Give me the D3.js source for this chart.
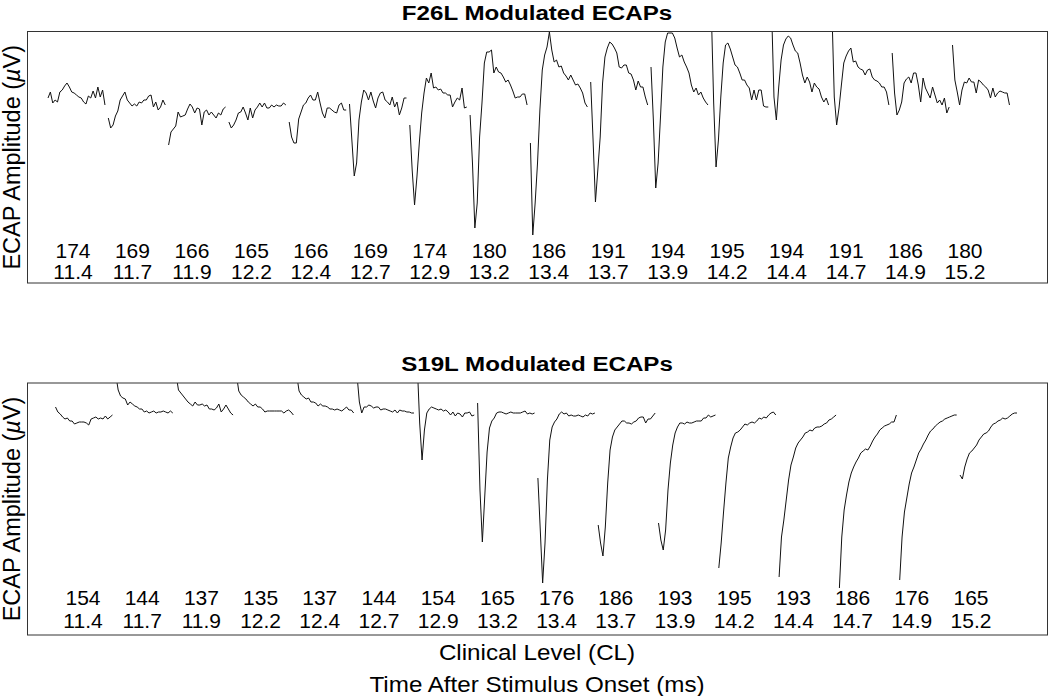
<!DOCTYPE html>
<html>
<head>
<meta charset="utf-8">
<title>Modulated ECAPs</title>
<script src="https://d3js.org/d3.v7.min.js"></script>
<style>
  body { margin: 0; background: #fff; }
  svg { display: block; font-family: "Liberation Sans", Arial, sans-serif; }
  .box { fill: none; stroke: #333; stroke-width: 1; }
  .trace { fill: none; stroke: #111; stroke-width: 1; }
  .lbl { font-size: 21px; fill: #000; text-anchor: middle; }
  .title { font-size: 21px; font-weight: bold; text-anchor: middle; }
  .axlbl { font-size: 22px; text-anchor: middle; }
</style>
</head>
<body>
<svg id="chart" width="1050" height="696"></svg>
<script>
// clinical levels under each trace, one row per subject
const clF26L = [174, 169, 166, 165, 166, 169, 174, 180, 186, 191, 194, 195, 194, 191, 186, 180];
const clS19L = [154, 144, 137, 135, 137, 144, 154, 165, 176, 186, 193, 195, 193, 186, 176, 165];
// time after stimulus onset (ms), same for both
const onsetMs = ["11.4", "11.7", "11.9", "12.2", "12.4", "12.7", "12.9", "13.2", "13.4", "13.7", "13.9", "14.2", "14.4", "14.7", "14.9", "15.2"];

// ECAP traces (uV, arbitrary zero), 25 samples per trace
const tracesF26L = [
  [2, 8, -3, 0, -2, 8, 10, 14, 17, 13, 8, 7, 5, 3, 2, -2, -4, 4, 2, 9, 2, 13, 3, 10, -5],
  [-18, -28, -25, -16, -11, 0, 4, 8, 0, -3, -6, -4, -6, -2, -3, 0, 0, 4, 5, -7, -2, -10, -7, 0, -5],
  [-45, -32, -29, -26, -12, -17, -16, -15, -9, -4, -7, -13, -8, -9, -25, -12, -10, -15, -12, -15, -18, -13, -15, -9, -7],
  [-22, -28, -25, -20, -13, -12, -7, -13, -20, -8, -18, -10, -7, -3, -7, -3, -8, -8, -5, -7, -5, -6, -6, -3, -5],
  [-22, -37, -43, -43, -19, -12, -5, -3, 2, 5, 0, 0, 8, -3, -13, -18, -8, -8, -10, -12, -13, -5, -3, -10, -10],
  [-4, -40, -76, -63, -20, -2, 10, 7, 0, 8, -1, -8, 2, 7, 8, 0, -2, -5, 3, -7, -2, -15, -8, 2, 2],
  [-25, -70, -105, -77, -43, -13, 7, 22, 17, 27, 12, 13, 10, 11, 7, 7, 5, 5, -7, -2, 2, 0, 12, -8, -7],
  [-15, -63, -128, -103, -37, -3, 37, 48, 48, 50, 27, 33, 28, 27, 23, 18, 20, 15, 9, 2, 3, 3, 6, 6, -5],
  [-43, -135, -103, -63, -10, 30, 45, 53, 68, 50, 38, 40, 33, 34, 27, 24, 20, 25, 20, 15, 16, 12, 7, -3, -7],
  [18, -40, -102, -70, -37, 17, 43, 52, 58, 56, 52, 47, 33, 32, 35, 35, 27, 26, 20, 10, 19, 13, 13, 3, -5],
  [33, -20, -88, -63, -17, 33, 58, 67, 67, 67, 62, 52, 43, 45, 38, 33, 27, 15, 8, 12, 5, 8, 2, -2, -5],
  [90, -3, -67, -40, 3, 37, 55, 57, 51, 43, 35, 33, 27, 20, 20, 15, 12, 0, 10, 0, 10, 10, -6, -7, -7],
  [90, 3, -20, 13, 40, 55, 61, 64, 62, 55, 49, 47, 37, 25, 17, 23, 18, 8, 17, 13, 11, 3, -2, 2, -5],
  [90, 3, -25, -8, 15, 37, 44, 49, 52, 38, 39, 33, 31, 30, 25, 30, 31, 23, 20, 19, 17, 13, 13, 8, -5],
  [47, 7, -15, -10, -2, 17, 21, 23, 17, 27, 27, 15, -2, 22, 12, 7, 2, 13, 5, -3, 0, -5, 2, -13, -7],
  [55, 20, 8, -5, 10, 18, 17, 22, 18, 18, 7, 20, 18, 15, 13, 10, 2, 12, 3, 7, 9, 8, 7, 7, -5]
];
const tracesS19L = [
  [13, 8, 6, 3, 1, 2, -1, -1, -4, -3, -2, -2, -2, -3, -5, 1, 2, 3, 1, 2, 1, 4, 1, 3, 5],
  [45, 30, 24, 22, 21, 15, 18, 16, 14, 13, 11, 11, 8, 9, 7, 8, 9, 7, 8, 8, 9, 8, 7, 9, 7],
  [45, 30, 27, 24, 21, 18, 16, 14, 18, 15, 15, 16, 14, 15, 11, 11, 10, 12, 16, 8, 11, 15, 11, 7, 5],
  [45, 29, 25, 23, 21, 18, 16, 14, 16, 13, 13, 11, 8, 9, 9, 9, 9, 9, 9, 9, 7, 9, 10, 8, 5],
  [45, 29, 25, 23, 21, 22, 18, 18, 17, 14, 16, 14, 14, 13, 11, 11, 10, 11, 10, 9, 11, 13, 10, 10, 7],
  [45, 18, 7, 13, 13, 15, 14, 12, 13, 13, 10, 11, 11, 10, 9, 8, 10, 7, 10, 9, 9, 8, 8, 7, 7],
  [55, -3, -40, -10, 7, 11, 13, 12, 11, 10, 11, 9, 10, 8, 5, 8, 4, 7, 6, 3, 7, 7, 8, 4, 5],
  [17, -70, -122, -77, -32, -8, -1, 2, 7, 8, 8, 7, 6, 7, 8, 7, 7, 7, 7, 8, 9, 6, 7, 6, 7],
  [-58, -110, -163, -123, -60, -20, -7, -2, 1, 6, 8, 6, 7, 4, 5, 4, 4, 5, 4, 3, 5, 4, 7, 6, 7],
  [-105, -123, -136, -107, -63, -30, -17, -10, -7, -4, -1, -1, -3, -3, -4, -2, -1, 2, 3, 3, -3, 1, 1, 4, 7],
  [-103, -120, -130, -110, -70, -43, -25, -13, -7, -3, -3, -4, -2, -3, -3, -2, -1, -1, -1, 2, 2, 5, 3, 4, 5],
  [-148, -123, -92, -63, -38, -27, -18, -13, -12, -10, -7, -4, -5, -3, -2, -3, -1, 2, 1, 3, 2, 5, 7, 8, 5],
  [-157, -117, -100, -80, -60, -45, -37, -28, -23, -20, -17, -13, -12, -10, -11, -8, -7, -7, -6, -4, -3, 0, 1, 3, 5],
  [-168, -117, -90, -75, -62, -53, -47, -42, -38, -33, -31, -29, -30, -26, -21, -17, -14, -10, -8, -6, -5, -4, -2, -2, 5],
  [-160, -117, -92, -78, -64, -53, -47, -40, -33, -29, -24, -20, -15, -11, -9, -6, -4, -2, -1, 1, 2, 3, 4, 5, 5],
  [-55, -59, -47, -39, -33, -31, -28, -25, -20, -17, -14, -13, -11, -7, -4, -3, -1, 0, 2, 1, 2, 4, 6, 7, 7]
];

const svg = d3.select("#chart");
const boxL = 27, boxR = 1047;
const midX = (boxL + boxR) / 2;

const panels = [
  { id: "f26l", title: "F26L Modulated ECAPs", top: 31.5, bottom: 283, yDom: [-183, 68.5],
    traces: tracesF26L, cl: clF26L, x0: 48, lbl: [73, 965], row1: 251, row2: 272 },
  { id: "s19l", title: "S19L Modulated ECAPs", top: 383, bottom: 635, yDom: [-215, 37],
    traces: tracesS19L, cl: clS19L, x0: 55.5, lbl: [83, 971], row1: 597.5, row2: 621 }
];

const slot = 60.3;      // px between trace starts
const span = 0.945;     // fraction of slot a trace covers

panels.forEach(p => {
  const x = d3.scaleLinear().domain([0, 16]).range([p.x0, p.x0 + slot * 16]);
  const y = d3.scaleLinear().domain(p.yDom).range([p.bottom, p.top]);
  const lblX = d3.scalePoint().domain(d3.range(16)).range(p.lbl);

  svg.append("clipPath").attr("id", "clip-" + p.id)
    .append("rect")
    .attr("x", boxL).attr("y", p.top)
    .attr("width", boxR - boxL).attr("height", p.bottom - p.top);

  const g = svg.append("g");

  g.append("g").attr("clip-path", `url(#clip-${p.id})`)
    .selectAll("path")
    .data(p.traces)
    .join("path")
    .attr("class", "trace")
    .attr("d", (tr, i) => d3.line()
      .x((v, j) => x(i + span * j / (tr.length - 1)))
      .y(v => y(v))(tr));

  g.append("rect").attr("class", "box")
    .attr("x", boxL + 0.5).attr("y", p.top)
    .attr("width", boxR - boxL).attr("height", p.bottom - p.top);

  g.selectAll(".cl").data(p.cl).join("text")
    .attr("class", "lbl cl")
    .attr("x", (d, i) => lblX(i))
    .attr("y", p.row1)
    .attr("dy", "0.35em")
    .text(d => d);

  g.selectAll(".ms").data(onsetMs).join("text")
    .attr("class", "lbl ms")
    .attr("x", (d, i) => lblX(i))
    .attr("y", p.row2)
    .attr("dy", "0.35em")
    .text(d => d);

  svg.append("text").attr("class", "title")
    .attr("transform", `translate(${midX},${p.top - 19}) scale(1.15,1)`)
    .attr("dy", "0.35em")
    .text(p.title);

  const yl = svg.append("text").attr("class", "axlbl")
    .style("font-size", "23.5px")
    .attr("transform", `translate(12,${(p.top + p.bottom) / 2}) rotate(-90)`)
    .attr("dy", "0.35em");
  yl.append("tspan").text("ECAP Amplitude (");
  yl.append("tspan").style("font-style", "italic").text("\u00b5");
  yl.append("tspan").text("V)");
});

svg.append("text").attr("class", "axlbl")
  .attr("transform", `translate(${midX},652) scale(1.1,1)`).attr("dy", "0.35em")
  .text("Clinical Level (CL)");
svg.append("text").attr("class", "axlbl")
  .attr("transform", `translate(${midX},684) scale(1.1,1)`).attr("dy", "0.35em")
  .text("Time After Stimulus Onset (ms)");
</script>
</body>
</html>
